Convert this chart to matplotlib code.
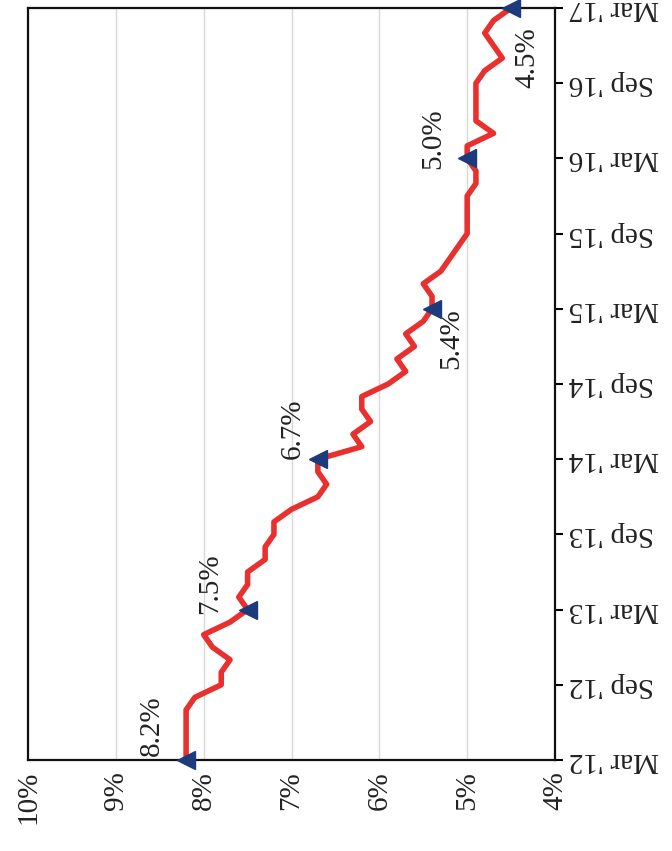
import matplotlib

matplotlib.use("Agg")
import matplotlib.pyplot as plt

# Monthly unemployment rate (%), Mar 2012 .. Mar 2017
rate_2012 = [8.2, 8.2, 8.2, 8.2, 8.2, 8.1, 7.8, 7.8, 7.7, 7.9]          # Mar-Dec
rate_2013 = [8.0, 7.7, 7.5, 7.6, 7.5, 7.5, 7.3, 7.3, 7.2, 7.2, 7.0, 6.7]
rate_2014 = [6.6, 6.7, 6.7, 6.2, 6.3, 6.1, 6.2, 6.2, 5.9, 5.7, 5.8, 5.6]
rate_2015 = [5.7, 5.5, 5.4, 5.4, 5.5, 5.3, 5.2, 5.1, 5.0, 5.0, 5.0, 5.0]
rate_2016 = [4.9, 4.9, 5.0, 5.0, 4.7, 4.9, 4.9, 4.9, 4.9, 4.8, 4.6, 4.7]
rate_2017 = [4.8, 4.7, 4.5]                                              # Jan-Mar

rates = rate_2012 + rate_2013 + rate_2014 + rate_2015 + rate_2016 + rate_2017
months = list(range(len(rates)))

tick_labels = ["Mar '12", "Sep '12", "Mar '13", "Sep '13", "Mar '14", "Sep '14",
               "Mar '15", "Sep '15", "Mar '16", "Sep '16", "Mar '17"]
pct_ticks = [10, 9, 8, 7, 6, 5, 4]

# every March gets a marker and a value label
marked = list(range(0, len(rates), 12))
label_offsets = [(-34, 34), (-37, 26), (-25, 30), (19, -30), (-34, 20), (16, -50)]

RED = "#e8302e"
NAVY = "#1d3a7c"
FONT = "Liberation Serif"

fig = plt.figure(figsize=(6.72, 8.51), dpi=100)
ax = fig.add_axes([28 / 672, 1 - 760 / 851, 527 / 672, 752 / 851])

# chart is laid out sideways: rate runs along x (reversed), time runs up the page
ax.plot(rates, months, color=RED, lw=4, solid_joinstyle="round", zorder=3)
ax.plot([rates[i] for i in marked], marked, ls="none", marker="<",
        ms=12.5, color=NAVY, mec=NAVY, zorder=4, clip_on=False)

for i, (dx, dy) in zip(marked, label_offsets):
    ax.annotate(f"{rates[i]:.1f}%", (rates[i], i), xytext=(dx, dy),
                textcoords="offset pixels", rotation=90, ha="center",
                va="center", fontsize=21, family=FONT, color="#222222")

ax.set_xlim(10, 4)
ax.set_ylim(0, 60)

ax.set_xticks(pct_ticks)
ax.set_xticklabels([f"{p}%" for p in pct_ticks], rotation=90,
                   family=FONT, fontsize=21, color="#222222")
ax.tick_params(axis="x", length=0, pad=8)

ax.yaxis.tick_right()
ax.set_yticks(range(0, 61, 6))
ax.set_yticklabels(tick_labels, rotation=180, family=FONT, fontsize=21,
                   color="#222222", va="center")
ax.tick_params(axis="y", length=6, width=1.5, pad=4, direction="out")

ax.grid(axis="x", color="#d8d8d8", lw=1)
ax.set_axisbelow(True)
for side in ["left", "right", "top", "bottom"]:
    ax.spines[side].set_linewidth(1.6)
    ax.spines[side].set_color("#111111")

fig.savefig("out.png", dpi=100)
